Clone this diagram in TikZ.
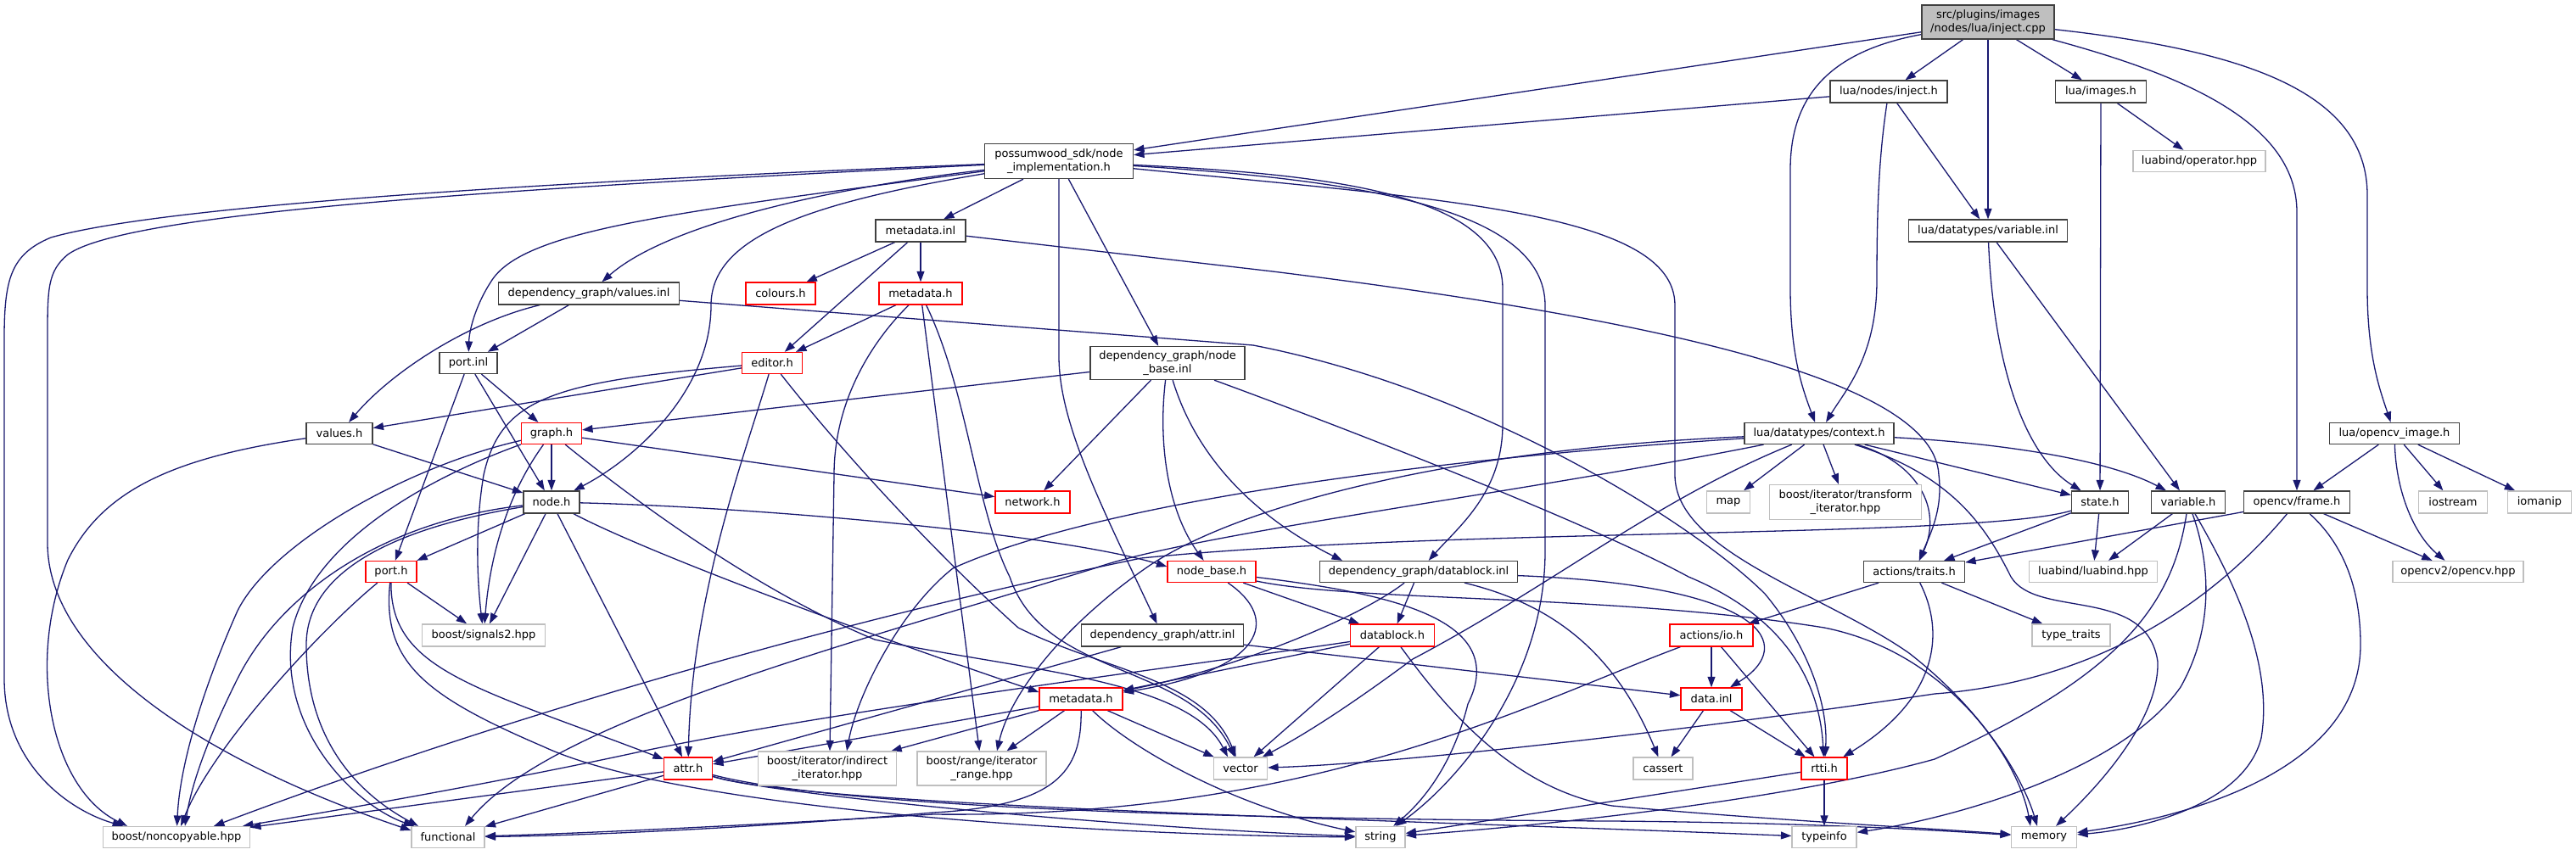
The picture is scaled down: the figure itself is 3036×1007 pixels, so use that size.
\documentclass[tikz,border=0pt]{standalone}
\usepackage{fontspec}
\setmainfont{DejaVu Sans}
\usetikzlibrary{arrows.meta,calc}
\definecolor{edgec}{HTML}{191970}
\definecolor{bordn}{HTML}{404040}
\definecolor{bordg}{HTML}{BFBFBF}
\definecolor{rootf}{HTML}{BFBFBF}
\pgfdeclarelayer{bgl}
\pgfdeclarelayer{edl}
\pgfsetlayers{bgl,edl,main}
\tikzset{
  nd/.style={rectangle, draw=bordn, fill=white, line width=0.65pt, inner sep=0pt, align=center, font=\fontsize{6.5pt}{7.8pt}\selectfont},
  rd/.style={nd, draw=red},
  gd/.style={nd, draw=bordg},
  box/.style args={#1/#2}{minimum width=#1*0.5pt, minimum height=#2*0.5pt},
  lnk/.style={draw=edgec, line width=0.65pt, -{Triangle[length=6.2pt,width=4.4pt]}},
}
\begin{document}
\begin{tikzpicture}[x=0.5pt,y=-0.5pt]
\useasboundingbox (0,0) rectangle (3036,1007);
\begin{pgfonlayer}{bgl}
\fill[white] (0,0) rectangle (3036,1007);
\end{pgfonlayer}
% nodes
\node[nd, fill=rootf, box=156/40] (root) at (2343,26) {src/plugins/images\\/nodes/lua/inject.cpp};
\node[nd, box=138/26] (injh) at (2226,108) {lua/nodes/inject.h};
\node[nd, box=107/26] (imgh) at (2476,108) {lua/images.h};
\node[gd, box=156/25] (oph) at (2592,190) {luabind/operator.hpp};
\node[nd, box=187/26] (varinl) at (2343,272) {lua/datatypes/variable.inl};
\node[nd, box=175/41] (nimpl) at (1248,190) {possumwood\_sdk/node\\\_implementation.h};
\node[nd, box=106/26] (mdinl) at (1085,272) {metadata.inl};
\node[rd, box=82/26] (colh) at (920,346) {colours.h};
\node[rd, box=98/26] (mdh1) at (1085,346) {metadata.h};
\node[nd, box=213/26] (valinl) at (694,346) {dependency\_graph/values.inl};
\node[nd, box=68/25] (portinl) at (552,428) {port.inl};
\node[rd, box=71/25] (edh) at (910,428) {editor.h};
\node[nd, box=182/39] (nbinl) at (1376,428) {dependency\_graph/node\\\_base.inl};
\node[nd, box=78/25] (valh) at (400,511) {values.h};
\node[rd, box=71/25] (graphh) at (650,511) {graph.h};
\node[nd, box=176/25] (ctxh) at (2144,511) {lua/datatypes/context.h};
\node[nd, box=153/25] (ocvimg) at (2822,511) {lua/opencv\_image.h};
\node[nd, box=66/26] (nodeh) at (650,592) {node.h};
\node[rd, box=88/26] (neth) at (1217,592) {network.h};
\node[gd, box=51/26] (mapn) at (2037,592) {map};
\node[gd, box=179/41] (transit) at (2175,592) {boost/iterator/transform\\\_iterator.hpp};
\node[nd, box=67/26] (stateh) at (2475,592) {state.h};
\node[nd, box=87/26] (varh) at (2579,592) {variable.h};
\node[nd, box=125/26] (frameh) at (2707,592) {opencv/frame.h};
\node[gd, box=81/26] (iostr) at (2891,592) {iostream};
\node[gd, box=75/26] (ioman) at (2993,592) {iomanip};
\node[rd, box=60/25] (porth) at (461,674) {port.h};
\node[rd, box=104/25] (nbh) at (1428,674) {node\_base.h};
\node[nd, box=233/25] (dbinl) at (1672,674) {dependency\_graph/datablock.inl};
\node[nd, box=119/25] (traitsh) at (2256,674) {actions/traits.h};
\node[gd, box=151/25] (luabind) at (2467,674) {luabind/luabind.hpp};
\node[gd, box=154/25] (ocv2) at (2897,674) {opencv2/opencv.hpp};
\node[gd, box=145/26] (sig2) at (570,749) {boost/signals2.hpp};
\node[nd, box=191/26] (attrinl) at (1370,749) {dependency\_graph/attr.inl};
\node[rd, box=99/26] (dbh) at (1641,749) {datablock.h};
\node[rd, box=98/26] (ioh) at (2017,749) {actions/io.h};
\node[gd, box=92/26] (typetr) at (2441,749) {type\_traits};
\node[rd, box=98/26] (mdh2) at (1274,824) {metadata.h};
\node[rd, box=72/26] (datainl) at (2017,824) {data.inl};
\node[rd, box=57/26] (attrh) at (811,906) {attr.h};
\node[gd, box=163/40] (indit) at (975,906) {boost/iterator/indirect\\\_iterator.hpp};
\node[gd, box=152/40] (itrange) at (1157,906) {boost/range/iterator\\\_range.hpp};
\node[gd, box=63/26] (vec) at (1462,906) {vector};
\node[gd, box=70/26] (cassert) at (1960,906) {cassert};
\node[rd, box=54/26] (rtti) at (2150,906) {rtti.h};
\node[gd, box=173/25] (noncop) at (208,987) {boost/noncopyable.hpp};
\node[gd, box=86/25] (func) at (528,987) {functional};
\node[gd, box=58/25] (str) at (1627,987) {string};
\node[gd, box=76/25] (tinfo) at (2150,987) {typeinfo};
\node[gd, box=77/25] (mem) at (2409,987) {memory};

\begin{pgfonlayer}{edl}
% root
\draw[lnk] (root) -- (nimpl);
\draw[lnk] (root) -- (injh);
\draw[lnk] (root) -- (imgh);
\draw[lnk] (root) -- (varinl);
\draw[lnk] (root) .. controls (2160,60) and (2110,110) .. (2110,200) -- (2110,340) .. controls (2110,420) and (2125,460) .. (ctxh);
\draw[lnk] (root) .. controls (2560,85) and (2707,140) .. (2707,250) -- (frameh);
\draw[lnk] (root) .. controls (2650,60) and (2790,110) .. (2790,230) -- (2790,340) .. controls (2790,420) and (2805,460) .. (ocvimg);
% inject.h
\draw[lnk] (injh) -- (nimpl);
\draw[lnk] (injh) .. controls (2215,180) and (2212,240) .. (2212,330) .. controls (2212,420) and (2175,460) .. (ctxh);
\draw[lnk] (injh) -- (varinl);
% images.h
\draw[lnk] (imgh) -- (oph);
\draw[lnk] (imgh) -- (stateh);
% variable.inl
\draw[lnk] (varinl) .. controls (2350,440) and (2390,540) .. (stateh);
\draw[lnk] (varinl) -- (varh);
% opencv_image.h
\draw[lnk] (ocvimg) -- (frameh);
\draw[lnk] (ocvimg) -- (iostr);
\draw[lnk] (ocvimg) -- (ioman);
\draw[lnk] (ocvimg) .. controls (2824,580) and (2845,630) .. (ocv2);
% frame.h
\draw[lnk] (frameh) -- (traitsh);
\draw[lnk] (frameh) -- (ocv2);
\draw[lnk] (frameh) .. controls (2650,660) and (2520,800) .. (2280,818) .. controls (2000,860) and (1650,900) .. (vec);
\draw[lnk] (frameh) .. controls (2760,640) and (2782,690) .. (2782,760) .. controls (2782,900) and (2600,960) .. (mem);
% variable.h
\draw[lnk] (varh) -- (luabind);
\draw[lnk] (varh) .. controls (2560,720) and (2490,800) .. (2280,895) .. controls (2100,945) and (1800,975) .. (str);
\draw[lnk] (varh) .. controls (2600,650) and (2615,730) .. (2570,810) .. controls (2500,910) and (2300,965) .. (tinfo);
\draw[lnk] (varh) .. controls (2630,680) and (2680,780) .. (2665,870) .. controls (2645,950) and (2520,978) .. (mem);
% state.h
\draw[lnk] (stateh) -- (traitsh);
\draw[lnk] (stateh) -- (luabind);
\draw[lnk] (stateh) .. controls (2330,635) and (1700,622) .. (1345,658) .. controls (900,750) and (500,880) .. ($(noncop.north)+(44,0)$);
% context.h
\draw[lnk] (ctxh) -- (stateh);
\draw[lnk] (ctxh) .. controls (2350,522) and (2480,540) .. (varh);
\draw[lnk] (ctxh) .. controls (2260,545) and (2290,600) .. (traitsh);
\draw[lnk] (ctxh) -- (mapn);
\draw[lnk] (ctxh) -- (transit);
\draw[lnk] (ctxh) .. controls (2300,560) and (2340,620) .. (2370,680) .. controls (2400,730) and (2530,690) .. (2543,780) .. controls (2545,850) and (2470,930) .. (mem);
\draw[lnk] (ctxh) .. controls (1950,590) and (1830,690) .. (1665,777) .. controls (1580,840) and (1530,870) .. (vec);
\draw[lnk] (ctxh) .. controls (1700,540) and (1300,590) .. (1123,670) .. controls (1060,720) and (1010,820) .. ($(indit.north)+(23,0)$);
\draw[lnk] (ctxh) .. controls (1700,530) and (1450,600) .. (1350,670) .. controls (1250,740) and (1190,820) .. ($(itrange.north)+(18,0)$);
\draw[lnk] (ctxh) .. controls (1800,580) and (1400,630) .. (1290,670) .. controls (1000,760) and (650,850) .. ($(func.north)+(20,0)$);
% node_implementation.h
\draw[lnk] (nimpl) -- (mdinl);
\draw[lnk] (nimpl) .. controls (700,212) and (200,240) .. (60,280) .. controls (12,300) and (5,330) .. (5,400) -- (5,800) .. controls (5,900) and (80,955) .. ($(noncop.north)+(-63,0)$);
\draw[lnk] (nimpl) .. controls (600,222) and (150,250) .. (80,300) .. controls (56,320) and (56,340) .. (56,400) -- (56,640) .. controls (56,780) and (250,900) .. ($(func.west)+(0,-8)$);
\draw[lnk] (nimpl) .. controls (950,225) and (780,270) .. (valinl);
\draw[lnk] (nimpl) .. controls (800,250) and (620,270) .. (580,330) .. controls (560,360) and (553,390) .. (portinl);
\draw[lnk] (nimpl) .. controls (950,240) and (838,280) .. (838,360) .. controls (838,460) and (750,540) .. (nodeh);
\draw[lnk] (nimpl) -- (nbinl);
\draw[lnk] (nimpl) -- (1248,420) .. controls (1248,500) and (1300,600) .. (attrinl);
\draw[lnk] (nimpl) .. controls (1550,205) and (1771,225) .. (1771,340) -- (1771,500) .. controls (1771,580) and (1720,620) .. (dbinl);
\draw[lnk] (nimpl) .. controls (1600,212) and (1821,245) .. (1821,360) -- (1821,650) .. controls (1821,800) and (1720,920) .. (str);
\draw[lnk] (nimpl) .. controls (1700,235) and (1974,250) .. (1974,360) -- (1974,560) .. controls (1974,650) and (2150,700) .. (2250,770) .. controls (2340,840) and (2385,920) .. ($(mem.north)+(-8,0)$);
% metadata.inl
\draw[lnk] (mdinl) -- (colh);
\draw[lnk] (mdinl) -- (mdh1);
\draw[lnk] (mdinl) -- (edh);
\draw[lnk] (mdinl) -- (1500,320) .. controls (1900,370) and (2280,440) .. (2285,560) .. controls (2290,600) and (2275,630) .. (traitsh);
% metadata.h (1)
\draw[lnk] (mdh1) -- (edh);
\draw[lnk] (mdh1) .. controls (1030,400) and (983,470) .. (983,560) -- ($(indit.north)+(3,0)$);
\draw[lnk] (mdh1) -- (itrange);
\draw[lnk] (mdh1) .. controls (1140,460) and (1150,600) .. (1190,680) .. controls (1230,800) and (1400,780) .. (vec);
% values.inl
\draw[lnk] (valinl) -- (portinl);
\draw[lnk] (valinl) .. controls (550,380) and (460,440) .. (valh);
\draw[lnk] (valinl) -- (1477,407) .. controls (1750,460) and (2000,620) .. (2080,700) .. controls (2130,760) and (2155,830) .. (rtti);
% port.inl
\draw[lnk] (portinl) -- (porth);
\draw[lnk] (portinl) -- (nodeh);
\draw[lnk] (portinl) -- (graphh);
% editor.h
\draw[lnk] (edh) -- (valh);
\draw[lnk] (edh) .. controls (650,450) and (590,470) .. (570,560) .. controls (560,620) and (562,680) .. (sig2);
\draw[lnk] (edh) .. controls (880,530) and (815,700) .. (attrh);
\draw[lnk] (edh) .. controls (990,530) and (1100,650) .. (1200,740) .. controls (1300,790) and (1420,800) .. (vec);
% node_base.inl
\draw[lnk] (nbinl) -- (graphh);
\draw[lnk] (nbinl) -- (neth);
\draw[lnk] (nbinl) .. controls (1365,520) and (1375,600) .. (nbh);
\draw[lnk] (nbinl) .. controls (1410,540) and (1480,610) .. ($(dbinl.north)+(-90,0)$);
\draw[lnk] (nbinl) .. controls (1600,510) and (1880,620) .. (1990,680) .. controls (2110,730) and (2145,810) .. (rtti);
% values.h
\draw[lnk] (valh) -- (nodeh);
\draw[lnk] (valh) .. controls (200,540) and (120,580) .. (80,660) .. controls (30,780) and (60,930) .. ($(noncop.north)+(-58,0)$);
% graph.h
\draw[lnk] (graphh) -- (nodeh);
\draw[lnk] (graphh) -- (neth);
\draw[lnk] (graphh) .. controls (480,550) and (320,640) .. (280,720) .. controls (240,810) and (212,900) .. (noncop);
\draw[lnk] (graphh) .. controls (500,565) and (370,640) .. (345,740) .. controls (325,860) and (420,950) .. ($(func.north)+(-40,0)$);
\draw[lnk] (graphh) .. controls (600,580) and (578,650) .. (sig2);
\draw[lnk] (graphh) .. controls (760,600) and (900,700) .. (1031,754) .. controls (1200,790) and (1400,800) .. ($(vec.north)+(-15,0)$);
% node.h
\draw[lnk] (nodeh) -- (porth);
\draw[lnk] (nodeh) .. controls (900,598) and (1250,630) .. ($(nbh.west)+(0,-6)$);
\draw[lnk] (nodeh) .. controls (450,615) and (330,700) .. (280,800) .. controls (240,880) and (225,930) .. ($(noncop.north)+(10,0)$);
\draw[lnk] (nodeh) .. controls (450,625) and (361,680) .. (361,760) .. controls (361,880) and (430,940) .. ($(func.north)+(-35,0)$);
\draw[lnk] (nodeh) -- (sig2);
\draw[lnk] (nodeh) -- (attrh);
\draw[lnk] (nodeh) .. controls (760,650) and (1000,740) .. ($(mdh2.west)+(0,-8)$);
% port.h
\draw[lnk] (porth) -- (sig2);
\draw[lnk] (porth) .. controls (380,740) and (250,880) .. (noncop);
\draw[lnk] (porth) .. controls (460,790) and (560,810) .. (attrh);
\draw[lnk] (porth) .. controls (450,780) and (500,820) .. (640,880) .. controls (800,955) and (1300,985) .. (str);
% attr.h
\draw[lnk] (attrh) -- (noncop);
\draw[lnk] (attrh) -- (func);
\draw[lnk] (attrh) .. controls (900,935) and (1300,975) .. (str);
\draw[lnk] (attrh) .. controls (950,950) and (1600,965) .. (tinfo);
\draw[lnk] (attrh) .. controls (1000,955) and (1500,966) .. (1900,968) .. controls (2150,970) and (2300,980) .. (mem);
% metadata.h (2)
\draw[lnk] (mdh2) -- (attrh);
\draw[lnk] (mdh2) -- (indit);
\draw[lnk] (mdh2) -- (itrange);
\draw[lnk] (mdh2) -- (vec);
\draw[lnk] (mdh2) .. controls (1275,910) and (1245,950) .. (1100,958) .. controls (900,975) and (700,985) .. (func);
\draw[lnk] (mdh2) .. controls (1330,880) and (1450,950) .. (str);
% datablock.inl
\draw[lnk] (dbinl) -- (dbh);
\draw[lnk] (dbinl) .. controls (1600,730) and (1450,790) .. (mdh2);
\draw[lnk] (dbinl) .. controls (1820,710) and (1900,760) .. (cassert);
\draw[lnk] (dbinl) .. controls (2080,690) and (2120,760) .. (datainl);
% node_base.h
\draw[lnk] (nbh) .. controls (1510,730) and (1490,790) .. (mdh2);
\draw[lnk] (nbh) -- (dbh);
\draw[lnk] (nbh) .. controls (1640,700) and (1780,730) .. (1730,830) .. controls (1710,910) and (1670,950) .. (str);
\draw[lnk] (nbh) .. controls (1600,710) and (1900,700) .. (2150,740) .. controls (2300,770) and (2380,900) .. ($(mem.north)+(-16,0)$);
% datablock.h
\draw[lnk] (dbh) -- (mdh2);
\draw[lnk] (dbh) -- (vec);
\draw[lnk] (dbh) .. controls (1700,830) and (1780,930) .. (1900,950) .. controls (2100,968) and (2300,978) .. (mem);
\draw[lnk] (dbh) .. controls (1400,785) and (1000,835) .. (760,885) .. controls (600,920) and (400,955) .. ($(noncop.north)+(78,0)$);
% io.h
\draw[lnk] (ioh) -- (datainl);
\draw[lnk] (ioh) -- (rtti);
\draw[lnk] (ioh) .. controls (1800,830) and (1550,965) .. (1100,960) .. controls (900,972) and (700,982) .. (func);
% traits.h
\draw[lnk] (traitsh) -- (ioh);
\draw[lnk] (traitsh) -- (typetr);
\draw[lnk] (traitsh) .. controls (2290,740) and (2290,820) .. (rtti);
% data.inl, rtti.h, attr.inl
\draw[lnk] (datainl) -- (cassert);
\draw[lnk] (datainl) -- (rtti);
\draw[lnk] (rtti) -- (str);
\draw[lnk] (rtti) -- (tinfo);
\draw[lnk] (attrinl) -- (attrh);
\draw[lnk] (attrinl) -- (datainl);
\end{pgfonlayer}
\end{tikzpicture}
\end{document}
